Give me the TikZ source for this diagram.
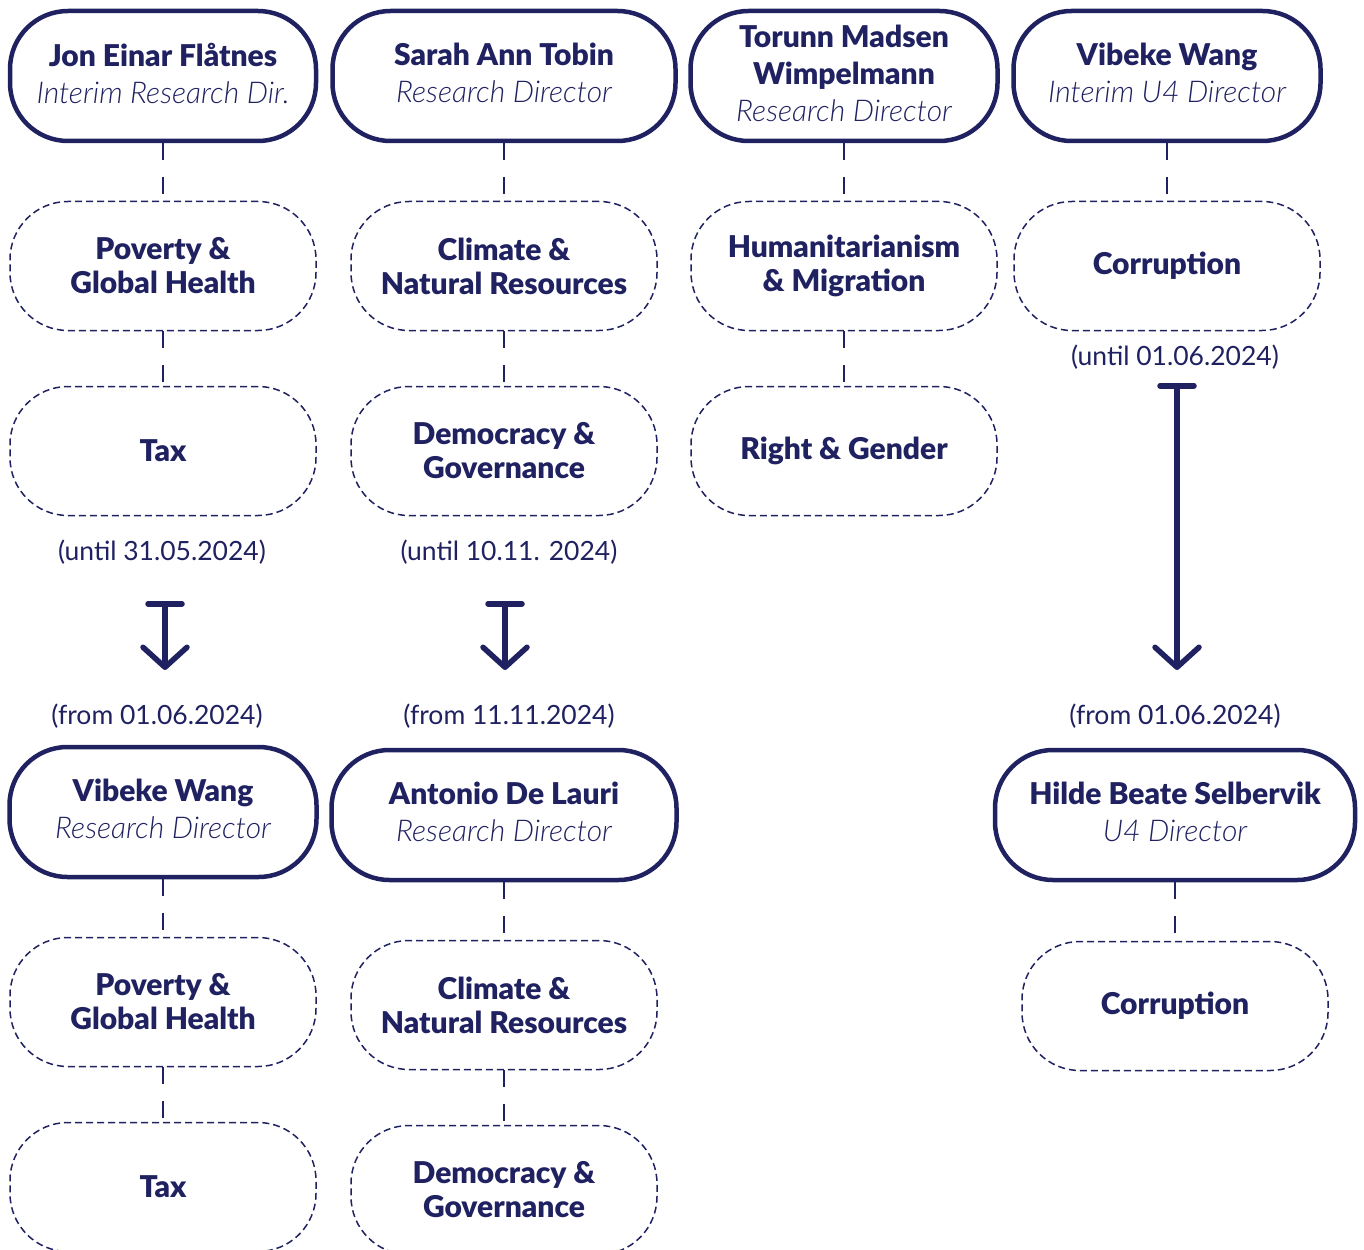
\documentclass[tikz,border=0pt]{standalone}
\usepackage{fontspec}
\setmainfont{Lato}[BoldFont={Lato Black}]
\newfontfamily\lightit{Lato Light Italic}
\usetikzlibrary{arrows.meta,positioning}
\definecolor{UNavy}{HTML}{1F2160}
\tikzset{
    director/.style = {draw=UNavy, line width=4.5pt, rectangle,
        rounded corners=58pt, text depth=6pt,
        minimum height=130pt, minimum width=306pt, align=center,
        text=UNavy, font=\fontsize{30}{37}\selectfont},
    area/.style = {draw=UNavy, line width=1.5pt, dash pattern=on 7pt off 4pt,
        rectangle, rounded corners=58pt,
        minimum height=129pt, minimum width=306pt, align=center,
        text=UNavy, font=\fontsize{30}{34}\selectfont\bfseries},
    link/.style = {draw=UNavy, line width=1.4pt, dash pattern=on 17pt off 17pt},
    handover/.style = {draw=UNavy, line width=5.5pt, line cap=round,
        {Bar[width=34pt,line cap=round]}-{Straight Barb[length=20pt,width=44pt,line cap=round,line join=round]}},
    datenote/.style = {text=UNavy, font=\fontsize{26.5}{30}\selectfont}
}
\newcommand{\who}[2]{{\bfseries #1}\\{\lightit\fontsize{30}{37}\selectfont #2}}

\begin{document}
\begin{tikzpicture}[x=1pt, y=-1pt, node distance=185pt]
    \useasboundingbox (0,0) rectangle (1364,1249);
    \clip (0,0) rectangle (1364,1249);

    % before the changes
    \node [director, name=jon] at (163,76) {\who{Jon Einar Flåtnes}{Interim Research Dir.}};
    \node [area, below of=jon, node distance=190pt, name=pov1] {Poverty \&\\Global Health};
    \node [area, below of=pov1, name=tax1] {Tax};
    \node [director, minimum width=343pt, name=sarah] at (504,76) {\who{Sarah Ann Tobin}{Research Director}};
    \node [area, below of=sarah, node distance=190pt, name=clim1] {Climate \&\\Natural Resources};
    \node [area, below of=clim1, name=dem1] {Democracy \&\\Governance};
    \node [director, minimum width=307pt, name=torunn] at (844,76) {{\bfseries Torunn Madsen}\\{\bfseries Wimpelmann}\\{\lightit\fontsize{30}{37}\selectfont Research Director}};
    \node [area, below of=torunn, node distance=190pt, name=hum] {Humanitarianism\\\& Migration};
    \node [area, below of=hum, name=rights] {Right \& Gender};
    \node [director, minimum width=307pt, name=vib1] at (1167,76) {\who{Vibeke Wang}{Interim U4 Director}};
    \node [area, below of=vib1, node distance=190pt, name=corr1] {Corruption};

    \draw [link] (jon) -- (pov1);
    \draw [link] (pov1) -- (tax1);
    \draw [link] (sarah) -- (clim1);
    \draw [link] (clim1) -- (dem1);
    \draw [link] (torunn) -- (hum);
    \draw [link] (hum) -- (rights);
    \draw [link] (vib1) -- (corr1);

    % handovers
    \node [datenote, name=until1] at (162,552) {(until 31.05.2024)};
    \node [datenote, name=until2] at (509,552) {(until 10.11. 2024)};
    \node [datenote, name=until3] at (1175,357) {(until 01.06.2024)};
    \node [datenote, name=from1] at (157,716) {(from 01.06.2024)};
    \node [datenote, name=from2] at (509,716) {(from 11.11.2024)};
    \node [datenote, name=from3] at (1175,716) {(from 01.06.2024)};
    \coordinate (hs1) at (165,601);
    \coordinate (he1) at (165,670);
    \coordinate (hs2) at (505,601);
    \coordinate (he2) at (505,670);
    \coordinate (hs3) at (1177,383);
    \coordinate (he3) at (1177,670);
    \foreach \i in {1,2,3}{
        \draw [handover] (hs\i) -- (he\i);
    }

    % after the changes
    \node [director, minimum width=307pt, name=vib2] at (163,812) {\who{Vibeke Wang}{Research Director}};
    \node [area, below of=vib2, node distance=190pt, name=pov2] {Poverty \&\\Global Health};
    \node [area, below of=pov2, name=tax2] {Tax};
    \node [director, minimum width=345pt, name=antonio] at (504,815) {\who{Antonio De Lauri}{Research Director}};
    \node [area, below of=antonio, node distance=190pt, name=clim2] {Climate \&\\Natural Resources};
    \node [area, below of=clim2, name=dem2] {Democracy \&\\Governance};
    \node [director, minimum width=360pt, name=hilde] at (1175,815) {\who{Hilde Beate Selbervik}{U4 Director}};
    \node [area, below of=hilde, node distance=191pt, name=corr2] {Corruption};

    \draw [link] (vib2) -- (pov2);
    \draw [link] (pov2) -- (tax2);
    \draw [link] (antonio) -- (clim2);
    \draw [link] (clim2) -- (dem2);
    \draw [link] (hilde) -- (corr2);
\end{tikzpicture}
\end{document}
